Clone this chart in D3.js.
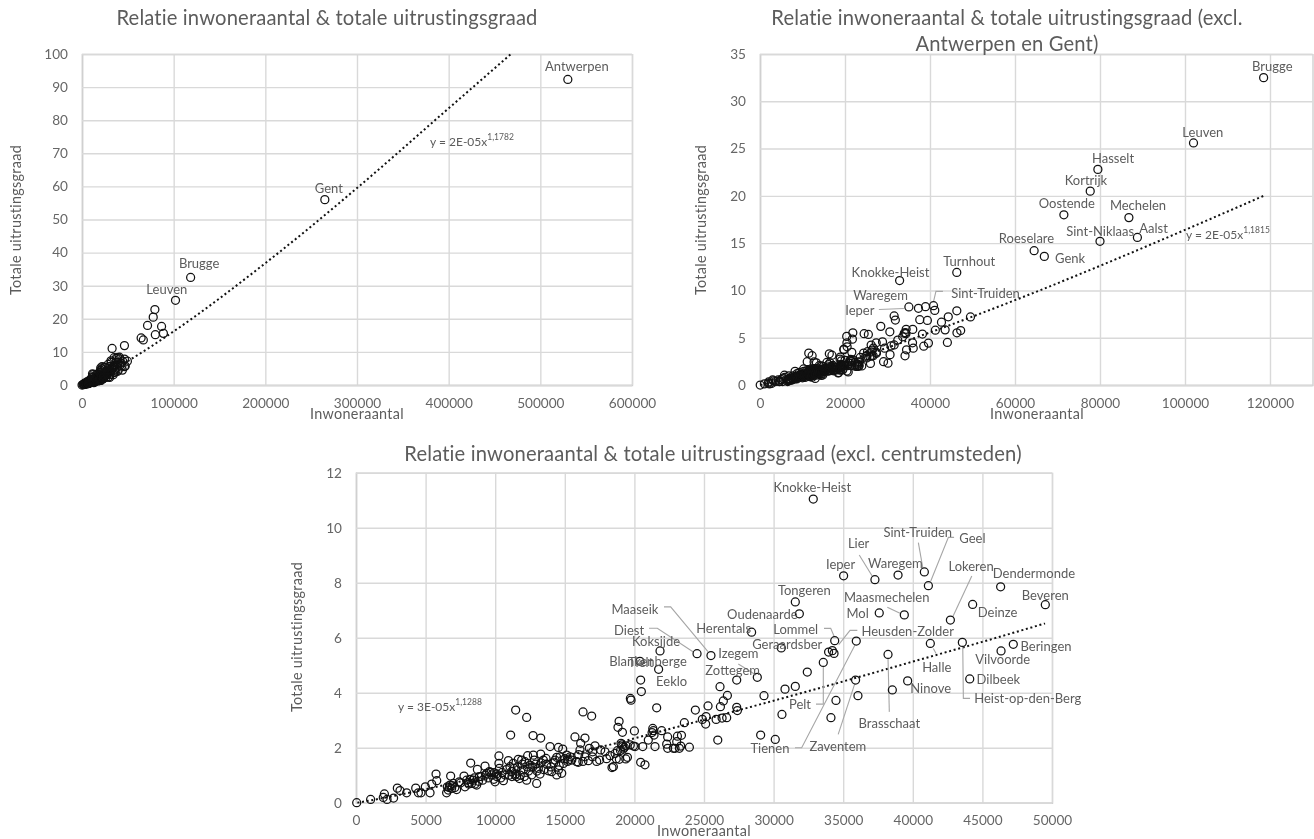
<!DOCTYPE html>
<html><head><meta charset="utf-8">
<script src="https://cdn.jsdelivr.net/npm/d3@7/dist/d3.min.js"></script>
<style>
html,body{margin:0;padding:0;background:#fff;overflow:hidden}
svg{display:block;filter:blur(0.45px)}
text{font-family:Lato,"Open Sans",sans-serif;fill:#5c5c5c}
</style></head><body>
<svg id="c" width="1314" height="839"></svg>
<script>
// ---- DATA ----
const bigCityNames = ["Antwerpen","Gent","Brugge","Leuven","Hasselt","Kortrijk","Oostende","Mechelen","Sint-Niklaas","Aalst","Roeselare","Genk","Turnhout"];
const bigCityPop   = [530000,264900,118500,102000,79500,77700,71500,86800,80000,88800,64500,66900,46300];
const bigCityScore = [92.3,56,32.5,25.6,22.8,20.5,18,17.7,15.2,15.6,14.2,13.6,11.9];

const namedNames = ["Knokke-Heist","Ieper","Tongeren","Oudenaarde","Herentals","Maaseik","Diest","Koksijde","Blankenberge","Tielt","Eeklo","Izegem","Zottegem","Lommel","Geraardsber","Heusden-Zolder","Tienen","Pelt","Zaventem","Brasschaat","Ninove","Halle","Heist-op-den-Berg","Dilbeek","Vilvoorde","Beringen","Lokeren","Deinze","Beveren","Dendermonde","Maasmechelen","Mol","Waregem","Lier","Sint-Truiden","Geel"];
const namedPop   = [32850,35030,31560,31850,28420,25500,24500,21840,20400,21740,20450,28830,27350,34390,30550,34220,35940,33570,35890,38220,39630,41260,43560,44090,46340,47220,42700,44300,49520,46310,39390,37590,38940,37280,40830,41120];
const namedScore = [11.04,8.25,7.3,6.87,6.2,5.35,5.42,5.52,5.14,4.85,4.46,4.56,4.46,5.89,5.63,5.53,5.88,5.1,4.46,5.39,4.43,5.79,5.83,4.5,5.52,5.76,6.64,7.21,7.2,7.85,6.83,6.9,8.28,8.11,8.39,7.89];

const otherPop = [50,1050,2040,1960,2230,2700,2970,3160,3640,4290,4480,4670,4980,5320,5440,5750,5800,
6510,6560,6630,6750,6800,6870,6990,7230,7420,7760,7830,7950,8070,8240,8310,8430,8550,8670,8720,8860,9100,9270,9390,9580,9750,9920,9990,10110,10270,10270,10300,10590,10710,10950,11060,11180,11300,11420,11540,11660,11740,11900,12020,12140,12260,12330,12500,12620,12740,12810,12980,13100,13220,13270,13460,13650,13820,14060,14300,14420,14540,14780,14420,14660,14900,15140,15260,15380,15860,15970,16090,16450,16690,16980,17290,
6700,6900,7100,7500,8100,8200,8500,8800,9000,9300,9500,9700,9900,10100,10400,10500,10800,11000,11200,11350,11500,11600,11800,11950,12100,12300,12400,12700,12900,13000,13300,13500,13700,14000,14200,14600,15000,15200,15500,16000,16300,17000,17500,18000,18700,19000,19100,19200,19500,19700,
11110,11470,12260,12720,13270,13940,14540,14850,15730,16450,16310,16930,16140,16760,17170,17580,17890,18250,18390,18490,18900,18820,19140,19040,19160,19280,19400,18920,19380,18610,18780,19710,19760,20000,19930,20050,20500,20600,20450,20760,21000,21600,21480,21320,21360,21270,21410,21960,22390,22320,22390,22800,22920,23040,23090,23380,23230,23330,23950,23590,24380,24880,25150,25290,25120,25870,25990,26300,26630,26180,26150,26390,26680,27350,27400,
33950,34340,32420,30820,31560,29310,36060,34480,30600,34120,29070,30120,38530];
const otherScore = [0,.12,.32,.19,.12,.17,.53,.44,.36,.53,.36,.36,.58,.36,.68,1.04,.8,
.36,.58,.46,.64,.97,.52,.7,.48,.76,.97,.58,.82,.73,1.44,.7,.82,.68,.64,1.21,.95,.82,1.33,1.07,1.13,1.01,1.09,.76,.95,1.7,1.43,1.25,.8,1.01,1.53,1.31,1.13,1.43,1.01,.95,1.58,.88,1.55,1.19,1.49,.82,1.71,1.37,1.01,1.73,1.55,.7,1.25,1.04,1.77,1.55,1.61,1.16,1.13,1.55,1.01,1.19,1.07,1.65,1.67,1.43,1.73,1.55,1.67,1.49,1.47,1.92,1.67,1.53,1.67,1.5,
.55,.62,.55,.72,.68,.85,.9,.78,.95,1,.9,1.1,.85,1.05,.9,1.1,1.2,1,.95,1.25,1.05,1.3,1,1.4,.95,1.3,1.15,1.3,1.4,1.15,1.45,1.2,1.4,1.3,1.45,1.35,1.6,1.5,1.55,1.75,1.5,1.85,1.55,1.6,1.6,1.9,2.1,1.95,1.65,2.1,
2.46,3.37,3.1,2.44,2.35,2.04,2.01,1.95,2.39,2.35,3.3,3.15,2.16,1.98,2.07,1.92,1.85,1.71,1.28,1.31,2.96,2.74,2.56,2.16,2.04,2.01,2.07,1.58,1.59,1.79,1.89,3.79,3.73,2.61,2.06,2.04,4.04,2.04,1.47,1.38,2.28,3.45,2.04,2.7,2.62,2.55,2.46,2.62,2.39,2.13,1.98,1.98,1.98,2.22,2.42,2.45,1.98,2.06,2.02,2.91,3.37,3.03,3.13,3.52,2.86,3.03,2.28,3.08,3.09,3.49,4.22,3.7,3.9,3.47,3.35,
5.48,5.43,4.75,4.13,4.23,3.89,3.89,3.72,3.21,3.09,2.46,2.3,4.1];

// dotted trend lines
const trendAllX = [100,10000,25000,50000,100000,200000,300000,400000,468000];
const trendAllY = [0,1.08,3.18,7.2,16.2,36.8,59.5,83.6,100];
const trendMidX = [100,10000,20000,40000,60000,80000,100000,118500];
const trendMidY = [0,1.08,2.45,5.56,8.97,12.6,16.4,20];
const trendLowX = [100,1000,5000,10000,15000,20000,25000,30000,35000,40000,45000,49500];
const trendLowY = [0,.08,.49,1.07,1.69,2.34,3.02,3.71,4.41,5.13,5.85,6.52];

const titleAll = ["Relatie inwoneraantal & totale uitrustingsgraad"];
const titleMid = ["Relatie inwoneraantal & totale uitrustingsgraad (excl.","Antwerpen en Gent)"];
const titleLow = ["Relatie inwoneraantal & totale uitrustingsgraad (excl. centrumsteden)"];
const xLabel = "Inwoneraantal", yLabel = "Totale uitrustingsgraad";

// ---- LAYOUT: label offset from its point, optional leader points (pixels, relative to point) ----
const layoutAll = {
 "Antwerpen":[9,-13],"Gent":[4,-11.5],"Brugge":[8.5,-14],"Leuven":[-8.7,-11.5]};
const layoutMid = {
 "Brugge":[8.7,-11.3],"Leuven":[9.3,-11],"Hasselt":[15.2,-11],"Kortrijk":[-4.3,-11],"Oostende":[3,-11.7],"Mechelen":[9.1,-12.7],
 "Sint-Niklaas":[.2,-10],"Aalst":[16.1,-9.7],"Roeselare":[-7.6,-12.7],"Genk":[25.8,1.3],"Turnhout":[12.4,-11.7],
 "Knokke-Heist":[-9.1,-8.7],"Waregem":[-45,-12],
 "Ieper":[-49,3.5,[[-30,2.5],[-5,1.5]]],
 "Sint-Truiden":[52,-12.7,[[9.4,-14.3],[2.4,-14.3],[0,-4]]]};
const layoutLow = {
 "Knokke-Heist":[-1,-12],"Ieper":[-3,-12],"Tongeren":[9,-12],"Oudenaarde":[-37,0],"Herentals":[-28,-4],
 "Maaseik":[-76,-47,[[-47,-48.7],[-40.3,-48.7],[-3,-4]]],
 "Diest":[-68,-24,[[-48,-25.4],[-39.7,-25.4],[-3.7,-1.7]]],
 "Koksijde":[-4,-10],"Blankenberge":[8,0],"Tielt":[-18,-7],"Eeklo":[31,1],
 "Izegem":[-19,-24,[[-19,-13.3],[-1.3,-2.3]]],"Zottegem":[-4,-10],
 "Lommel":[-39,-12,[[-10.7,-12.4],[-4,-12.4],[-.4,-4]]],"Geraardsber":[6,-4],
 "Heusden-Zolder":[75.4,-19.3,[[25,-20.3],[17.7,-20.3],[6.4,-6]]],
 "Tienen":[-86.3,107.3,[[-61.3,106.7],[-54.6,106.7],[-1.3,4]]],
 "Pelt":[-23.3,41.7,[[-7.3,41.7],[0,41.7],[0,4.4]]],
 "Zaventem":[-17.7,66,[[-17.4,54.3],[-.7,3.3]]],
 "Brasschaat":[1.3,69,[[1.3,57.4],[0,4]]],
 "Ninove":[23,7.3],"Halle":[6.4,23.4,[[3,5],[5.7,10]]],
 "Heist-op-den-Berg":[65.4,56,[[7.7,56],[1,56],[.4,3.7]]],
 "Dilbeek":[28.6,0],"Vilvoorde":[1.7,8.3],"Beringen":[32.7,1.4],
 "Lokeren":[20.7,-54.3,[[21.4,-44],[2.4,-3.3]]],"Deinze":[25,7.4],"Beveren":[0,-10],"Dendermonde":[33.3,-13.4],
 "Maasmechelen":[-17.6,-18.3,[[-17,-7.7],[-4.3,-1.7]]],"Mol":[-21.6,.3],"Waregem":[-2.7,-11.7],
 "Lier":[-16.3,-36.4,[[-15.7,-24.7],[-2.3,-3]]],
 "Sint-Truiden":[-6.6,-40,[[-6,-29.3],[-1.6,-4.3]]],
 "Geel":[44,-47.4,[[25.7,-48.4],[20,-48.4],[2.4,-4.7]]]};

const small = otherPop.map((x,i)=>({x,y:otherScore[i]})).concat(namedPop.map((x,i)=>({x,y:namedScore[i],name:namedNames[i]})));
const bigs = bigCityNames.map((n,i)=>({x:bigCityPop[i],y:bigCityScore[i],name:n}));

const svg = d3.select("#c");

function chart(o){
  const g = svg.append("g");
  const x = d3.scaleLinear().domain(o.xDomain).range([o.l,o.r]);
  const y = d3.scaleLinear().domain(o.yDomain).range([o.b,o.t]);
  // gridlines + axes
  const gx = g.append("g").attr("transform",`translate(0,${o.b})`)
    .call(d3.axisBottom(x).tickValues(d3.range(o.xDomain[0],o.xDomain[1]+1,o.xStep)).tickFormat(d3.format("d")).tickSize(-(o.b-o.t)).tickPadding(13));
  const gy = g.append("g").attr("transform",`translate(${o.l},0)`)
    .call(d3.axisLeft(y).tickValues(d3.range(o.yDomain[0],o.yDomain[1]+.001,o.yStep)).tickSize(-(o.r-o.l)).tickPadding(14));
  [gx,gy].forEach(a=>{
    a.selectAll("line").attr("stroke","#d9d9d9").attr("stroke-width",1.4);
    a.select(".domain").attr("stroke","#d0d0d0").attr("stroke-width",1.4);
    a.selectAll("text").attr("font-size",13.6).style("font-family","Lato").style("fill","#666");
  });
  gx.selectAll("text").attr("dy","0.71em");
  // trend
  const line = d3.line().x(d=>x(d[0])).y(d=>y(d[1])).curve(d3.curveMonotoneX);
  g.append("path").datum(o.trendX.map((v,i)=>[v,o.trendY[i]])).attr("d",line)
    .attr("fill","none").attr("stroke","#111").attr("stroke-width",2).attr("stroke-dasharray","2 2.7");
  // leaders
  o.data.forEach(d=>{
    const L=o.layout[d.name]; if(!L||!L[2])return;
    const px=x(d.x),py=y(d.y);
    g.append("path").attr("d",d3.line()(L[2].map(p=>[px+p[0],py+p[1]])))
      .attr("fill","none").attr("stroke","#a6a6a6").attr("stroke-width",1.1);
  });
  // points
  g.append("g").selectAll("circle").data(o.data).join("circle")
    .attr("cx",d=>x(d.x)).attr("cy",d=>y(d.y)).attr("r",o.rad)
    .attr("fill","none").attr("stroke","#111").attr("stroke-width",1.25);
  // labels
  o.data.forEach(d=>{
    const L=o.layout[d.name]; if(!L)return;
    g.append("text").attr("x",x(d.x)+L[0]).attr("y",y(d.y)+L[1]).attr("text-anchor","middle")
      .attr("dominant-baseline","central").attr("font-size",13).text(d.name);
  });
  // title
  o.title.forEach((t,i)=>g.append("text").attr("x",o.titleX).attr("y",o.titleY+i*26.3)
    .attr("text-anchor","middle").attr("dominant-baseline","central").attr("font-size",o.titleSize).attr("letter-spacing",".15").text(t));
  // axis titles
  g.append("text").attr("x",o.xlx).attr("y",o.xly).attr("text-anchor","middle").attr("dominant-baseline","central")
    .attr("font-size",14.4).attr("letter-spacing",".3").text(xLabel);
  g.append("text").attr("transform",`translate(${o.ylx},${o.yly}) rotate(-90)`).attr("text-anchor","middle").attr("dominant-baseline","central")
    .attr("font-size",14.4).attr("letter-spacing",".3").text(yLabel);
  // equation
  const eq=g.append("text").attr("x",o.eqX).attr("y",o.eqY).attr("dominant-baseline","central").attr("font-size",12);
  eq.append("tspan").text(o.eq[0]);
  eq.append("tspan").attr("dy",-4).attr("font-size",8.5).text(o.eq[1]);
}

chart({data:small.concat(bigs),layout:layoutAll,l:82,r:632,t:54,b:385,xDomain:[0,600000],xStep:100000,yDomain:[0,100],yStep:10,rad:4,
  trendX:trendAllX,trendY:trendAllY,title:titleAll,titleX:327,titleY:16.5,titleSize:20.2,xlx:357,xly:413,ylx:15,yly:220,
  eq:["y = 2E-05x","1,1782"],eqX:430,eqY:141});
chart({data:small.concat(bigs.slice(2)),layout:layoutMid,l:760,r:1312.5,t:54,b:385,xDomain:[0,130000],xStep:20000,yDomain:[0,35],yStep:5,rad:4,
  trendX:trendMidX,trendY:trendMidY,title:titleMid,titleX:1007,titleY:16.5,titleSize:20.2,xlx:1037,xly:413,ylx:700,yly:220,
  eq:["y = 2E-05x","1,1815"],eqX:1186,eqY:234});
chart({data:small,layout:layoutLow,l:356,r:1052,t:472.7,b:802.7,xDomain:[0,50000],xStep:5000,yDomain:[0,12],yStep:2,rad:4,
  trendX:trendLowX,trendY:trendLowY,title:titleLow,titleX:713,titleY:453,titleSize:20.2,xlx:704,xly:830,ylx:296,yly:637,
  eq:["y = 3E-05x","1,1288"],eqX:398,eqY:706});
</script>
</body></html>
